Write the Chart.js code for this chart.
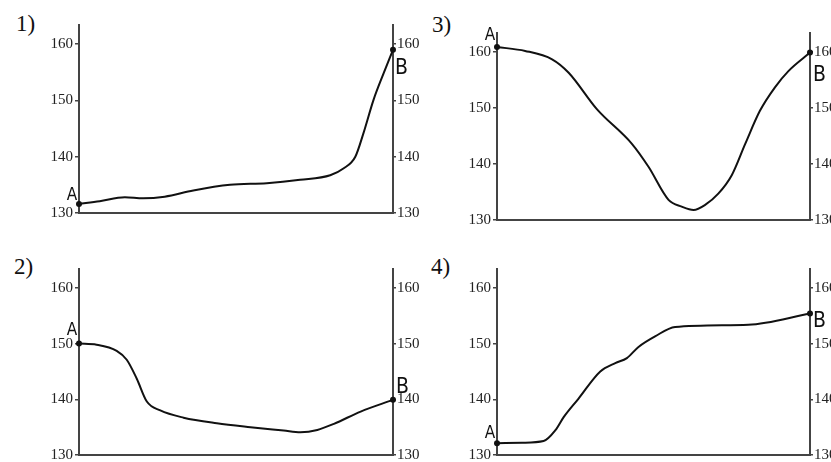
<!DOCTYPE html>
<html>
<head>
<meta charset="utf-8">
<script src="https://cdn.jsdelivr.net/npm/chart.js@4.4.1/dist/chart.umd.min.js"></script>
<style>
  html, body { margin: 0; padding: 0; background: #fff; }
  body { width: 831px; height: 462px; overflow: hidden; position: relative; }
  canvas { position: absolute; }
  .num { position: absolute; font: 23px/23px "Liberation Serif", "Times New Roman", serif; color: #111; }
</style>
</head>
<body>
<div class="num" style="left:16px;top:12px">1)</div>
<div class="num" style="left:432px;top:13px">3)</div>
<div class="num" style="left:14px;top:255px">2)</div>
<div class="num" style="left:431px;top:255px">4)</div>
<canvas id="c1" width="400" height="212" style="left:30px;top:13px"></canvas>
<canvas id="c2" width="400" height="213" style="left:30px;top:257px"></canvas>
<canvas id="c3" width="400" height="211" style="left:447px;top:21px"></canvas>
<canvas id="c4" width="400" height="213" style="left:447px;top:257px"></canvas>
<script>
// values, x = share of the way from A to B (0..100)
const yTicks = [130, 140, 150, 160];
const yMin = 130;
const yMax = 163.4;
const endNames = ['A', 'B'];

const p1x = [0, 6.6, 14.6, 20.4, 27.3, 36.4, 48.1, 59.8, 70.4, 80, 84.2, 88, 90.6, 93.8, 97, 100];
const p1y = [131.6, 132.1, 132.8, 132.6, 132.9, 134.0, 135.0, 135.3, 135.9, 136.7, 137.9, 140.0, 144.2, 150.1, 154.8, 159.0];

const p2x = [0, 5.6, 12.0, 15.2, 18.4, 21.6, 25.9, 33.3, 43.9, 54.6, 65.2, 70.5, 75.9, 81.2, 89.7, 100];
const p2y = [150.0, 149.8, 148.7, 147.1, 143.7, 139.6, 138.0, 136.7, 135.7, 135.0, 134.4, 134.1, 134.5, 135.6, 137.8, 139.9];

const p3x = [0, 9.0, 17.6, 22.9, 31.9, 43.1, 48.4, 54.8, 59.0, 62.8, 66.5, 70.7, 75.0, 79.3, 84.0, 88.8, 93.1, 100];
const p3y = [160.9, 160.2, 158.7, 156.3, 149.8, 143.6, 139.5, 133.6, 132.4, 131.8, 132.7, 134.7, 138.0, 143.6, 149.5, 153.7, 156.6, 159.9];

const p4x = [0, 8.0, 14.9, 18.6, 21.3, 26.0, 33.0, 37.8, 41.5, 45.2, 50.5, 56.9, 80.3, 100];
const p4y = [132.1, 132.2, 132.5, 134.4, 136.8, 140.1, 145.0, 146.5, 147.4, 149.4, 151.3, 153.0, 153.4, 155.4];

const axisColor = '#444';
const inkColor = '#111';
const labelFont = '"DejaVu Sans Condensed", "Liberation Sans Narrow", "DejaVu Sans", sans-serif';

// draws the A / B letters next to the end points
const endLabels = {
  id: 'endLabels',
  afterDatasetsDraw(chart, args, opts) {
    const pts = chart.getDatasetMeta(0).data;
    const ctx = chart.ctx;
    ctx.save();
    ctx.fillStyle = inkColor;
    ctx.textBaseline = 'alphabetic';
    opts.marks.forEach((m, k) => {
      const p = k === 0 ? pts[0] : pts[pts.length - 1];
      ctx.font = m.size + 'px ' + labelFont;
      ctx.textAlign = m.align;
      ctx.fillText(endNames[k], p.x + m.dx, p.y + m.dy);
    });
    ctx.restore();
  }
};

function makePanel(id, xs, ys, lay) {
  const n = xs.length;
  const yAxis = (pos, width, tickLen, pad) => ({
    type: 'linear',
    position: pos,
    min: yMin,
    max: yMax,
    afterBuildTicks: axis => { axis.ticks = yTicks.map(v => ({ value: v })); },
    afterFit: axis => { axis.width = width; },
    grid: { drawOnChartArea: false, drawTicks: true, tickLength: tickLen, color: axisColor, lineWidth: 1.5 },
    border: { display: true, color: axisColor, width: 2 },
    ticks: { padding: pad, color: '#222', font: { family: '"Liberation Serif", "Times New Roman", serif', size: 15 } }
  });

  new Chart(document.getElementById(id), {
    type: 'line',
    data: {
      datasets: [{
        data: xs.map((x, i) => ({ x: x, y: ys[i] })),
        borderColor: inkColor,
        borderWidth: 2,
        cubicInterpolationMode: 'monotone',
        pointRadius: c => (c.dataIndex === 0 || c.dataIndex === n - 1) ? 3 : 0,
        pointBackgroundColor: inkColor,
        pointBorderWidth: 0,
        clip: false
      }]
    },
    options: {
      responsive: false,
      animation: false,
      devicePixelRatio: 1,
      layout: { padding: { top: lay.padTop, left: 0, right: 0, bottom: 0 } },
      plugins: {
        legend: { display: false },
        tooltip: { enabled: false },
        endLabels: { marks: lay.marks }
      },
      scales: {
        x: {
          type: 'linear',
          min: 0,
          max: 100,
          afterFit: axis => { axis.height = lay.xH; },
          ticks: { display: false },
          grid: { display: false },
          border: { display: true, color: axisColor, width: 2 }
        },
        y: yAxis('left', lay.leftW, 4, 2),
        yR: yAxis('right', lay.rightW, 3, 1)
      }
    },
    plugins: [endLabels]
  });
}

makePanel('c1', p1x, p1y, {
  padTop: 12, xH: 12, leftW: 49, rightW: 37,
  marks: [{ dx: -7, dy: -4, align: 'center', size: 17 }, { dx: 2, dy: 24, align: 'left', size: 21 }]
});
makePanel('c2', p2x, p2y, {
  padTop: 12, xH: 15, leftW: 49, rightW: 37,
  marks: [{ dx: -7, dy: -9, align: 'center', size: 17 }, { dx: 3, dy: -7, align: 'left', size: 21 }]
});
makePanel('c3', p3x, p3y, {
  padTop: 12, xH: 12, leftW: 50, rightW: 37,
  marks: [{ dx: -7, dy: -7, align: 'center', size: 17 }, { dx: 3, dy: 28, align: 'left', size: 21 }]
});
makePanel('c4', p4x, p4y, {
  padTop: 12, xH: 15, leftW: 50, rightW: 37,
  marks: [{ dx: -7, dy: -5, align: 'center', size: 17 }, { dx: 3, dy: 13, align: 'left', size: 21 }]
});
</script>
</body>
</html>
